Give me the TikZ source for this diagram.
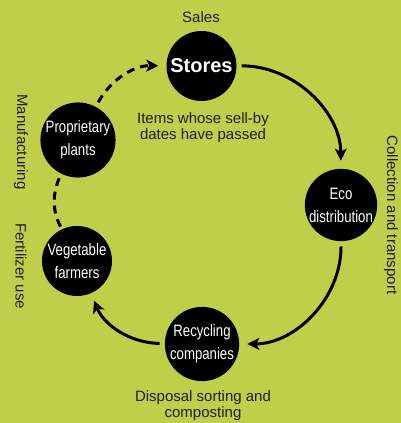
\documentclass[tikz,border=0pt]{standalone}
\usepackage{fontspec}
\setmainfont{Liberation Sans}
\newfontfamily\narrowsans[FakeStretch=0.8]{Liberation Sans}
\usetikzlibrary{arrows.meta}
\definecolor{leafgreen}{RGB}{190,208,74}
\definecolor{inkgray}{RGB}{30,30,30}
\begin{document}
\begin{tikzpicture}[x=1pt,y=1pt,
  hub/.style={circle, fill=black, minimum size=70pt, inner sep=0pt, text=white,
    align=center, font=\narrowsans\fontsize{16.5}{23}\selectfont},
  flow/.style={line width=3pt, -{Stealth[length=12pt,width=12pt,inset=3pt]},
    shorten <=5pt, shorten >=8pt},
  dashflow/.style={flow, dash pattern=on 8pt off 6pt},
  caption/.style={align=center, text=inkgray, font=\fontsize{15}{16}\selectfont}]
% background
\fill[leafgreen] (0,0) rectangle (401,423);
\useasboundingbox (0,0) rectangle (401,423);

% stations of the cycle
\node[hub] (stores) at (201.5,357) {\rmfamily\bfseries\fontsize{20}{23}\selectfont Stores};
\node[hub] (eco) at (341,218) {Eco\\distribution};
\node[hub] (recycling) at (202,79) {Recycling\\companies};
\node[hub] (vegetable) at (77,162) {Vegetable\\farmers};
\node[hub] (proprietary) at (78,283) {Proprietary\\plants};

% flows between stations
\draw[flow] (stores) to[bend left=45] (eco);
\draw[flow] (eco) to[bend left=45] (recycling);
\draw[flow] (recycling) to[bend left=33] (vegetable);
\draw[dashflow, -, shorten <=3pt, shorten >=0pt] (vegetable) to[bend left=26] (proprietary);
\draw[dashflow] (proprietary) to[bend left=31] (stores);

% captions
\node[caption] (sales) at (201,406) {Sales};
\node[caption] (items) at (203,295) {Items whose sell-by\\dates have passed};
\node[caption] (disposal) at (203,17) {Disposal sorting and\\composting};
\node[caption, rotate=-90] (collection) at (391,208) {Collection and transport};
\node[caption, rotate=-90] (manufacturing) at (21,281) {Manufacturing};
\node[caption, rotate=-90] (fertilizer) at (21,157) {Fertilizer use};
\end{tikzpicture}
\end{document}
